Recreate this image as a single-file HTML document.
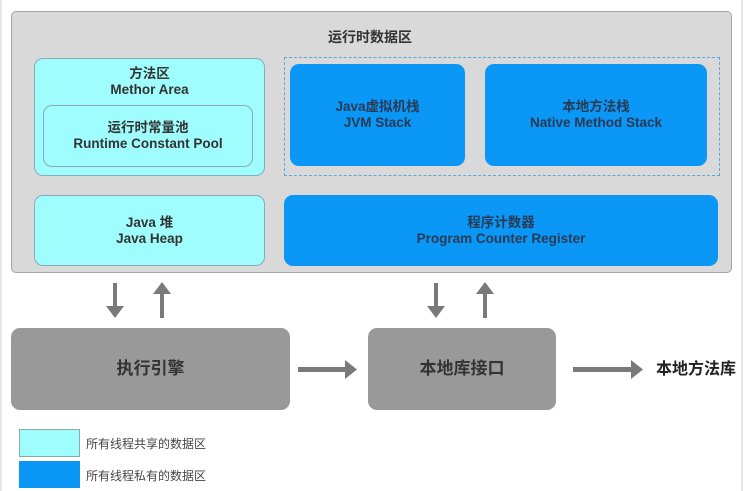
<!DOCTYPE html>
<html><head><meta charset="utf-8"><style>
body{margin:0;width:749px;height:491px;background:#fff;position:relative;overflow:hidden;font-family:"Liberation Sans","Noto Sans CJK SC",sans-serif;}
.a{position:absolute;box-sizing:border-box;}
.c{display:flex;flex-direction:column;align-items:center;justify-content:center;text-align:center;font-weight:bold;font-size:13.5px;line-height:16px;color:#333;}
.cy{background:#9ffdfd;border:1px solid #8ab;border-radius:9px;}
.bl{background:#0a97f5;border-radius:9px;color:#2a3a55;}
.gr{background:#999;border-radius:9px;color:#333;font-size:17px;}
</style></head><body>
<div class="a" style="left:0;top:0;width:2px;height:491px;background:#e6e6e6"></div>
<div class="a" style="left:741px;top:0;width:2px;height:491px;background:#e6e6e6"></div>
<div class="a" style="left:11px;top:11px;width:721px;height:262px;background:#d9d9d9;border:1px solid #a6a6a6;border-radius:5px"></div>
<div class="a c" style="left:300px;top:28px;width:140px;height:18px;font-size:14px">运行时数据区</div>
<div class="a cy c" style="left:34px;top:58px;width:231px;height:118px;justify-content:flex-start;padding-top:7px">方法区<br>Methor Area</div>
<div class="a cy c" style="left:43px;top:105px;width:210px;height:62px">运行时常量池<br>Runtime Constant Pool</div>
<div class="a" style="left:284px;top:57px;width:436px;height:119px;border:1px dashed #5aa7dd"></div>
<div class="a bl c" style="left:290px;top:64px;width:175px;height:102px">Java虚拟机栈<br>JVM Stack</div>
<div class="a bl c" style="left:485px;top:64px;width:222px;height:102px">本地方法栈<br>Native Method Stack</div>
<div class="a cy c" style="left:34px;top:195px;width:231px;height:71px">Java 堆<br>Java Heap</div>
<div class="a bl c" style="left:284px;top:195px;width:434px;height:71px">程序计数器<br>Program Counter Register</div>
<svg class="a" style="left:0;top:0" width="749" height="491">
<g fill="#7a7a7a">
<rect x="113" y="283" width="4" height="24"/><polygon points="106,306 124,306 115,318"/>
<rect x="160" y="293" width="4" height="25"/><polygon points="153,294 171,294 162,282"/>
<rect x="434" y="283" width="4" height="24"/><polygon points="427,306 445,306 436,318"/>
<rect x="483" y="293" width="4" height="25"/><polygon points="476,294 494,294 485,282"/>
<rect x="298" y="367" width="48" height="5"/><polygon points="345,360 345,379 357,369.5"/>
<rect x="573" y="367" width="59" height="5"/><polygon points="631,360 631,379 643,369.5"/>
</g></svg>
<div class="a gr c" style="left:11px;top:328px;width:279px;height:82px">执行引擎</div>
<div class="a gr c" style="left:368px;top:328px;width:188px;height:82px">本地库接口</div>
<div class="a c" style="left:650px;top:360px;width:92px;height:20px;font-size:16px;color:#222">本地方法库</div>
<div class="a" style="left:19px;top:429px;width:61px;height:28px;background:#9ffdfd;border:1px solid #8aa"></div>
<div class="a" style="left:19px;top:461px;width:61px;height:27px;background:#0a97f5"></div>
<div class="a" style="left:86px;top:435px;font-size:12px;color:#444">所有线程共享的数据区</div>
<div class="a" style="left:86px;top:467px;font-size:12px;color:#444">所有线程私有的数据区</div>
</body></html>
